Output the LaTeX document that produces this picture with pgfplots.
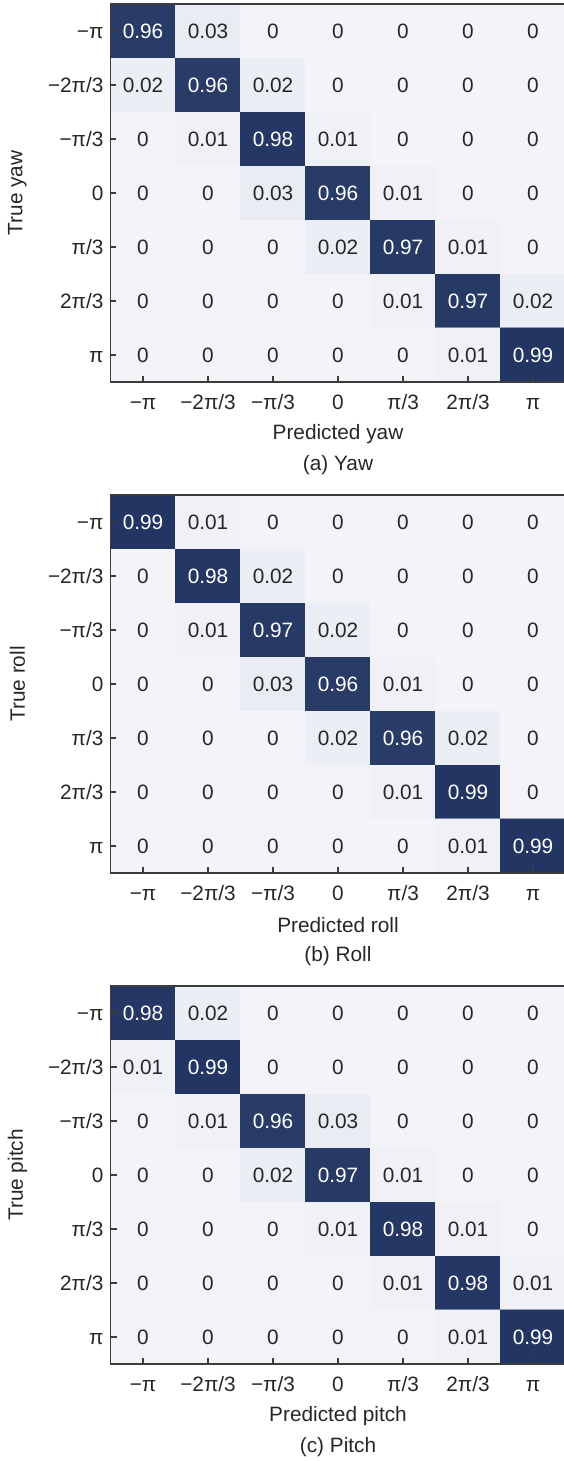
\documentclass[border=0pt]{standalone}
\usepackage{pgfplots}
\pgfplotsset{compat=1.18}
\usepackage{fontspec}
\setmainfont{Liberation Sans}
\definecolor{axcol}{RGB}{60,60,60}
\definecolor{txt}{RGB}{38,38,38}
\newcommand{\cellfont}{\fontsize{10.4}{12}\selectfont}
\newcommand{\labfont}{\fontsize{10.4}{12}\selectfont}
\newcommand{\celltext}{%
  \pgfkeys{/pgf/fpu=true}%
  \pgfmathparse{\pgfplotspointmeta>0.5}%
  \pgfmathfloattoint{\pgfmathresult}\edef\isdark{\pgfmathresult}%
  \pgfkeys{/pgf/fpu=false}%
  \ifnum\isdark=1 \textcolor{white}{\pgfmathprintnumber[fixed,precision=2,assume math mode=true]{\pgfplotspointmeta}}%
  \else\textcolor{txt}{\pgfmathprintnumber[fixed,precision=2,assume math mode=true]{\pgfplotspointmeta}}\fi}
\pgfplotsset{
  cmstyle/.style={
    scale only axis, width=227.5pt, height=189pt,
    xmin=-0.5, xmax=6.5, ymin=-0.5, ymax=6.5, y dir=reverse,
    xtick={0,...,6}, ytick={0,...,6},
    xticklabels={−π,−2π/3,−π/3,0,π/3,2π/3,π},
    yticklabels={−π,−2π/3,−π/3,0,π/3,2π/3,π},
    tick align=inside, xtick pos=bottom, ytick pos=left,
    major tick length=3pt,
    tick style={axcol, line width=0.6pt},
    axis line style={axcol, line width=0.8pt},
    axis on top, clip=false,
    colormap={cm}{rgb255(0cm)=(243,243,248); rgb255(0.4cm)=(230,234,242); rgb255(10cm)=(33,52,98)},
    point meta min=0, point meta max=1,
    ticklabel style={font=\cellfont, text=txt, text height=7.5pt, text depth=0pt},
    xticklabel style={yshift=-2.5pt},
    label style={font=\labfont, text=txt},
    xlabel style={at={(axis description cs:0.5,-0.1376)}, anchor=center},
    ylabel style={at={(axis description cs:-0.2044,0.5)}, anchor=center},
  },
  cmplot/.style={
    matrix plot*, mesh/cols=7, point meta=explicit,
    nodes near coords={\celltext},
    every node near coord/.append style={anchor=center, font=\cellfont, text height=7.5pt, text depth=0pt},
  }
}
\pgfplotstableread{
x y c
0 0 0.96
1 0 0.03
2 0 0
3 0 0
4 0 0
5 0 0
6 0 0
0 1 0.02
1 1 0.96
2 1 0.02
3 1 0
4 1 0
5 1 0
6 1 0
0 2 0
1 2 0.01
2 2 0.98
3 2 0.01
4 2 0
5 2 0
6 2 0
0 3 0
1 3 0
2 3 0.03
3 3 0.96
4 3 0.01
5 3 0
6 3 0
0 4 0
1 4 0
2 4 0
3 4 0.02
4 4 0.97
5 4 0.01
6 4 0
0 5 0
1 5 0
2 5 0
3 5 0
4 5 0.01
5 5 0.97
6 5 0.02
0 6 0
1 6 0
2 6 0
3 6 0
4 6 0
5 6 0.01
6 6 0.99
}\yawtable
\pgfplotstableread{
x y c
0 0 0.99
1 0 0.01
2 0 0
3 0 0
4 0 0
5 0 0
6 0 0
0 1 0
1 1 0.98
2 1 0.02
3 1 0
4 1 0
5 1 0
6 1 0
0 2 0
1 2 0.01
2 2 0.97
3 2 0.02
4 2 0
5 2 0
6 2 0
0 3 0
1 3 0
2 3 0.03
3 3 0.96
4 3 0.01
5 3 0
6 3 0
0 4 0
1 4 0
2 4 0
3 4 0.02
4 4 0.96
5 4 0.02
6 4 0
0 5 0
1 5 0
2 5 0
3 5 0
4 5 0.01
5 5 0.99
6 5 0
0 6 0
1 6 0
2 6 0
3 6 0
4 6 0
5 6 0.01
6 6 0.99
}\rolltable
\pgfplotstableread{
x y c
0 0 0.98
1 0 0.02
2 0 0
3 0 0
4 0 0
5 0 0
6 0 0
0 1 0.01
1 1 0.99
2 1 0
3 1 0
4 1 0
5 1 0
6 1 0
0 2 0
1 2 0.01
2 2 0.96
3 2 0.03
4 2 0
5 2 0
6 2 0
0 3 0
1 3 0
2 3 0.02
3 3 0.97
4 3 0.01
5 3 0
6 3 0
0 4 0
1 4 0
2 4 0
3 4 0.01
4 4 0.98
5 4 0.01
6 4 0
0 5 0
1 5 0
2 5 0
3 5 0
4 5 0.01
5 5 0.98
6 5 0.01
0 6 0
1 6 0
2 6 0
3 6 0
4 6 0
5 6 0.01
6 6 0.99
}\pitchtable
\begin{document}
\begin{tikzpicture}
\begin{axis}[cmstyle, at={(55.25pt,728.5pt)}, anchor=north west,
  xlabel={Predicted yaw}, ylabel={True yaw}]
\addplot[cmplot] table[x=x, y=y, meta=c] {\yawtable};
\node[font=\labfont, text=txt] at (axis description cs:0.5,-0.2196) {(a) Yaw};
\end{axis}
\begin{axis}[cmstyle, at={(55.25pt,483pt)}, anchor=north west,
  xlabel={Predicted roll}, ylabel={True roll}]
\addplot[cmplot] table[x=x, y=y, meta=c] {\rolltable};
\node[font=\labfont, text=txt] at (axis description cs:0.5,-0.2196) {(b) Roll};
\end{axis}
\begin{axis}[cmstyle, at={(55.25pt,237.5pt)}, anchor=north west,
  xlabel={Predicted pitch}, ylabel={True pitch}]
\addplot[cmplot] table[x=x, y=y, meta=c] {\pitchtable};
\node[font=\labfont, text=txt] at (axis description cs:0.5,-0.2196) {(c) Pitch};
\end{axis}
\pgfresetboundingbox
\useasboundingbox (0,0) rectangle (281.5pt,730.5pt);
\end{tikzpicture}
\end{document}
